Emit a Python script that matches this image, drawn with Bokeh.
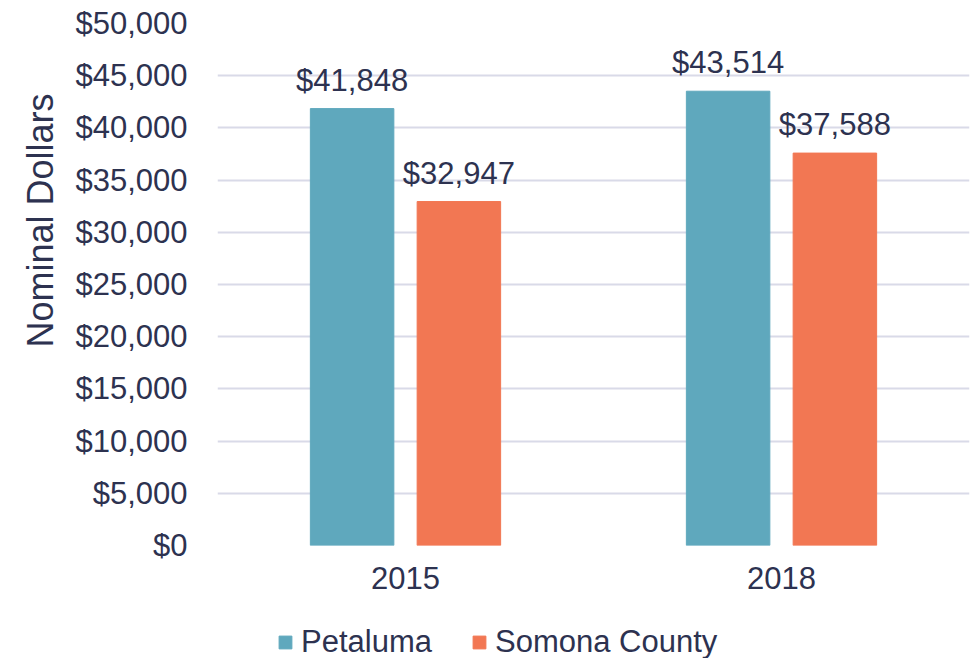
from bokeh.plotting import figure
from bokeh.layouts import column
from bokeh.models import (ColumnDataSource, FactorRange, Range1d, NumeralTickFormatter,
                          FixedTicker, LabelSet, Legend, LegendItem, Title)
from bokeh.core.properties import value
from bokeh.transform import dodge
from bokeh.embed import file_html
from bokeh.resources import INLINE

years = ["2015", "2018"]
petaluma = [41848, 43514]
sonoma = [32947, 37588]
series_names = ["Petaluma", "Somona County"]
y_ticks = [0, 5000, 10000, 15000, 20000, 25000, 30000, 35000, 40000, 45000, 50000]

TEXT = "#2d3250"
FONT = "Liberation Sans"
TEAL = "#5fa8bd"
ORANGE = "#f27753"

src = ColumnDataSource(dict(
    year=years,
    petaluma=petaluma,
    sonoma=sonoma,
    pet_lbl=[f"${v:,}" for v in petaluma],
    son_lbl=[f"${v:,}" for v in sonoma],
))

p = figure(width=977, height=618, x_range=FactorRange(factors=years),
           y_range=Range1d(0, 50000), output_backend="svg", toolbar_location=None,
           min_border_left=217, min_border_right=8, min_border_top=23, min_border_bottom=73)
p.outline_line_color = None
p.background_fill_color = "white"
p.border_fill_color = "white"

r1 = p.vbar(x=dodge("year", -0.142, range=p.x_range), top="petaluma", width=0.222,
            source=src, fill_color=TEAL, line_color=TEAL)
r2 = p.vbar(x=dodge("year", 0.142, range=p.x_range), top="sonoma", width=0.222,
            source=src, fill_color=ORANGE, line_color=ORANGE)

for col, off, top in (("pet_lbl", -0.142, "petaluma"), ("son_lbl", 0.142, "sonoma")):
    ls = LabelSet(x=dodge("year", off, range=p.x_range), y=top, text=col, source=src,
                  y_offset=18, text_align="center", text_baseline="alphabetic",
                  text_font=value(FONT), text_font_size="31px", text_color=TEXT)
    p.add_layout(ls)

p.yaxis.ticker = FixedTicker(ticks=y_ticks)
p.yaxis.formatter = NumeralTickFormatter(format="$0,0")

for ax in (p.xaxis, p.yaxis):
    ax.axis_line_color = None
    ax.major_tick_line_color = None
    ax.minor_tick_line_color = None
    ax.major_tick_out = 0
    ax.major_tick_in = 0
    ax.major_label_text_font = FONT
    ax.major_label_text_font_size = "31px"
    ax.major_label_text_color = TEXT
p.yaxis.major_label_standoff = 30
p.xaxis.major_label_standoff = 21

ytitle = Title(text="Nominal Dollars", align="right", offset=70, standoff=23,
               text_font=FONT, text_font_size="36px", text_font_style="normal",
               text_color=TEXT)
p.add_layout(ytitle, "left")

p.xgrid.grid_line_color = None
p.ygrid.grid_line_color = "#d9dae8"
p.ygrid.grid_line_width = 2

# legend strip below the chart (hidden renderers only supply the legend swatches)
leg = figure(width=977, height=40, x_range=FactorRange(factors=years), y_range=Range1d(0, 1),
             output_backend="svg", toolbar_location=None,
             x_axis_location=None, y_axis_location=None,
             min_border_left=0, min_border_right=0, min_border_top=0, min_border_bottom=0)
leg.outline_line_color = None
leg.grid.grid_line_color = None
d1 = leg.vbar(x="year", top="petaluma", width=0.2, source=src,
              fill_color=TEAL, line_color=TEAL, visible=False)
d2 = leg.vbar(x="year", top="sonoma", width=0.2, source=src,
              fill_color=ORANGE, line_color=ORANGE, visible=False)
legend = Legend(items=[LegendItem(label=series_names[0], renderers=[d1]),
                       LegendItem(label=series_names[1], renderers=[d2])],
                orientation="horizontal", location=(60, -2),
                glyph_width=16, glyph_height=16, label_standoff=8, spacing=39,
                padding=0, margin=0, border_line_color=None, background_fill_alpha=0,
                inactive_fill_alpha=0,
                label_text_font=FONT, label_text_font_size="31px", label_text_color=TEXT)
leg.add_layout(legend, "center")

open("out.html", "w").write(file_html(column(p, leg, spacing=0), INLINE))
